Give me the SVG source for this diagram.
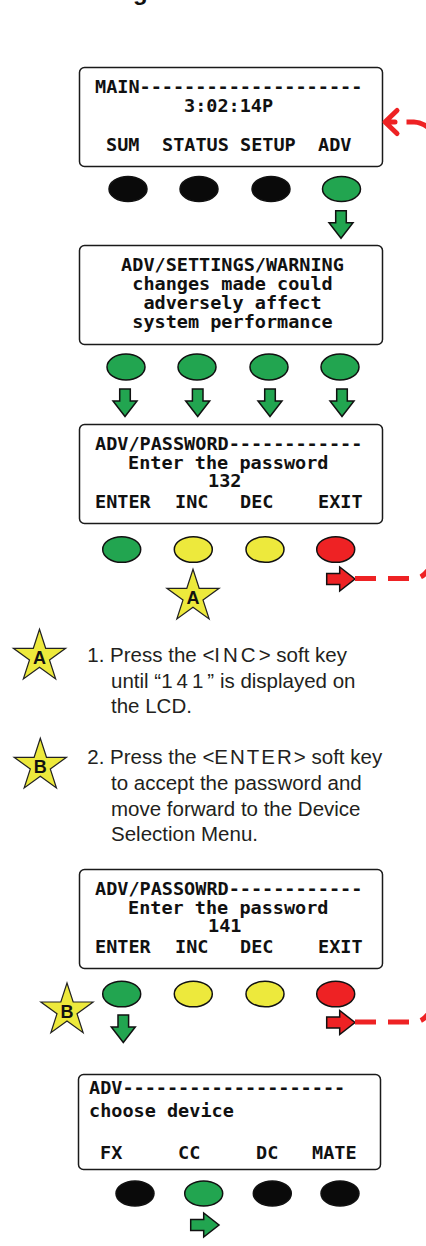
<svg xmlns="http://www.w3.org/2000/svg" width="426" height="1246" viewBox="0 0 426 1246">
<style>
.bg{fill:#fff}
.lcd{fill:#fff;stroke:#1a1a1a;stroke-width:1.5}
.t{font-family:"DejaVu Sans Mono",monospace;font-weight:bold;font-size:18.5px;fill:#111}
.tc{text-anchor:middle}
.btn{stroke:#111;stroke-width:1.5}
.blk{fill:#0a0a0a}
.grn{fill:#22a550}
.yel{fill:#ede93c}
.red{fill:#ee2224}
.ga{fill:#22a550;stroke:#111;stroke-width:1.5;stroke-linejoin:miter}
.ra{fill:#ee2224;stroke:#111;stroke-width:1.5}
.dash{fill:none;stroke:#ee2224;stroke-width:5;stroke-dasharray:21 12}
.star{fill:#ede93c;stroke:#222;stroke-width:1.2}
.sl{font-family:"Liberation Sans",Arial,sans-serif;font-weight:bold;font-size:18px;fill:#111;text-anchor:middle}
.ins{font-family:"Liberation Sans",Arial,sans-serif;font-size:20.5px;fill:#231f20}
</style>
<defs>
<path id="down" d="M-5.3,0 H5.3 V12 H12 L0,27.5 L-12,12 H-5.3 Z"/>
<path id="right" d="M0,-5.5 H13 V-12 L28.3,0 L13,12 V5.5 H0 Z"/>
<polygon id="star" points="0,-27.5 6.17,-8.49 26.15,-8.5 9.99,3.24 16.16,22.25 0,10.5 -16.16,22.25 -9.99,3.24 -26.15,-8.5 -6.17,-8.49"/>
</defs>
<rect class="bg" x="0" y="0" width="426" height="1246"/>

<text x="133" y="0" font-family="Liberation Sans, Arial, sans-serif" font-weight="bold" font-size="24" fill="#111">g</text>

<g id="lcd-main">
<rect class="lcd" x="79.5" y="67.5" width="303" height="99" rx="5"/>
<text class="t" x="95" y="93">MAIN--------------------</text>
<text class="t" x="184" y="112">3:02:14P</text>
<text class="t" x="106" y="151">SUM</text>
<text class="t" x="162" y="151">STATUS</text>
<text class="t" x="240" y="151">SETUP</text>
<text class="t" x="318" y="151">ADV</text>
</g>
<g id="buttons-main">
<ellipse class="btn blk" cx="128" cy="189" rx="19" ry="12.5"/>
<ellipse class="btn blk" cx="199" cy="189" rx="19" ry="12.5"/>
<ellipse class="btn blk" cx="271" cy="189" rx="19" ry="12.5"/>
<ellipse class="btn grn" cx="341.5" cy="189" rx="19" ry="12.5"/>
</g>

<g id="lcd-warning">
<rect class="lcd" x="79.5" y="245.5" width="303" height="99" rx="5"/>
<text class="t tc" x="232.5" y="271">ADV/SETTINGS/WARNING</text>
<text class="t tc" x="232.5" y="290">changes made could</text>
<text class="t tc" x="232.5" y="309">adversely affect</text>
<text class="t tc" x="232.5" y="328">system performance</text>
</g>
<g id="buttons-warning">
<ellipse class="btn grn" cx="126" cy="367" rx="19" ry="13"/>
<ellipse class="btn grn" cx="197" cy="367" rx="19" ry="13"/>
<ellipse class="btn grn" cx="269" cy="367" rx="19" ry="13"/>
<ellipse class="btn grn" cx="340" cy="367" rx="19" ry="13"/>
</g>

<g id="lcd-password-132">
<rect class="lcd" x="79.5" y="424.5" width="303" height="99" rx="5"/>
<text class="t" x="95" y="450">ADV/PASSWORD------------</text>
<text class="t" x="128" y="469">Enter the password</text>
<text class="t" x="208" y="487">132</text>
<text class="t" x="95" y="508">ENTER</text>
<text class="t" x="175" y="508">INC</text>
<text class="t" x="240" y="508">DEC</text>
<text class="t" x="318" y="508">EXIT</text>
</g>
<g id="buttons-password-132">
<ellipse class="btn grn" cx="121.7" cy="549.5" rx="19" ry="12.8"/>
<ellipse class="btn yel" cx="193.3" cy="549.5" rx="19" ry="12.8"/>
<ellipse class="btn yel" cx="265" cy="549.5" rx="19" ry="12.8"/>
<ellipse class="btn red" cx="335.7" cy="549.5" rx="19" ry="12.8"/>
</g>

<g id="star-a-lcd">
<use href="#star" class="star" x="193" y="596.8"/>
<text class="sl" x="193" y="603.8">A</text>
</g>

<g id="step-1">
<use href="#star" class="star" x="39.5" y="656.8"/>
<text class="sl" x="39.5" y="664">A</text>
<text class="ins" x="87.3" y="662.3">1. Press the &lt;<tspan letter-spacing="3">INC</tspan>&gt; soft key</text>
<text class="ins" x="111" y="688">until “<tspan letter-spacing="4">141</tspan>” is displayed on</text>
<text class="ins" x="111" y="713.3">the LCD.</text>
</g>

<g id="step-2">
<use href="#star" class="star" x="40.3" y="765.8"/>
<text class="sl" x="40.3" y="773">B</text>
<text class="ins" x="87.3" y="764">2. Press the &lt;<tspan letter-spacing="2">ENTER</tspan>&gt; soft key</text>
<text class="ins" x="111" y="790">to accept the password and</text>
<text class="ins" x="111" y="815.7">move forward to the Device</text>
<text class="ins" x="111" y="841">Selection Menu.</text>
</g>

<g id="lcd-password-141">
<rect class="lcd" x="79.5" y="869.5" width="303" height="99" rx="5"/>
<text class="t" x="95" y="895">ADV/PASSOWRD------------</text>
<text class="t" x="128" y="914">Enter the password</text>
<text class="t" x="208" y="932">141</text>
<text class="t" x="95" y="953">ENTER</text>
<text class="t" x="175" y="953">INC</text>
<text class="t" x="240" y="953">DEC</text>
<text class="t" x="318" y="953">EXIT</text>
</g>
<g id="buttons-password-141">
<ellipse class="btn grn" cx="121.7" cy="994" rx="19" ry="12.8"/>
<ellipse class="btn yel" cx="193.3" cy="994" rx="19" ry="12.8"/>
<ellipse class="btn yel" cx="265" cy="994" rx="19" ry="12.8"/>
<ellipse class="btn red" cx="335.7" cy="994" rx="19" ry="12.8"/>
</g>

<g id="star-b-lcd">
<use href="#star" class="star" x="67" y="1010.5"/>
<text class="sl" x="67" y="1017.5">B</text>
</g>

<g id="lcd-device">
<rect class="lcd" x="78.5" y="1074.5" width="302" height="95" rx="5"/>
<text class="t" x="89" y="1094">ADV--------------------</text>
<text class="t" x="89" y="1117">choose device</text>
<text class="t" x="100" y="1159">FX</text>
<text class="t" x="178" y="1159">CC</text>
<text class="t" x="256" y="1159">DC</text>
<text class="t" x="312" y="1159">MATE</text>
</g>
<g id="buttons-device">
<ellipse class="btn blk" cx="135" cy="1193.5" rx="19" ry="12.5"/>
<ellipse class="btn grn" cx="203.7" cy="1193.5" rx="19" ry="12.5"/>
<ellipse class="btn blk" cx="272.3" cy="1193.5" rx="19" ry="12.5"/>
<ellipse class="btn blk" cx="340" cy="1193.5" rx="19" ry="12.5"/>
</g>

<g id="connectors">
<use href="#down" class="ga" x="341" y="210.7"/>
<use href="#down" class="ga" x="125" y="389"/>
<use href="#down" class="ga" x="197.7" y="389"/>
<use href="#down" class="ga" x="270" y="389"/>
<use href="#down" class="ga" x="342" y="389"/>
<use href="#down" class="ga" x="123.3" y="1015"/>
<use href="#right" class="ga" x="190.7" y="1225"/>
<use href="#right" class="ra" x="326.7" y="579"/>
<use href="#right" class="ra" x="326.7" y="1022.5"/>
<path class="dash" d="M355,578.5 H414 C421,578.5 426,574 431,566"/>
<path class="dash" d="M355,1022 H414 C421,1022 426,1018 431,1010"/>
<path d="M406.5,122 H414 C420,122 426,125 432,131" fill="none" stroke="#ee2224" stroke-width="5"/>
<path d="M397,110.5 L385,122 L397,133.5 M385.5,122 H395" fill="none" stroke="#ee2224" stroke-width="5" stroke-linecap="round" stroke-linejoin="round"/>
</g>
</svg>
